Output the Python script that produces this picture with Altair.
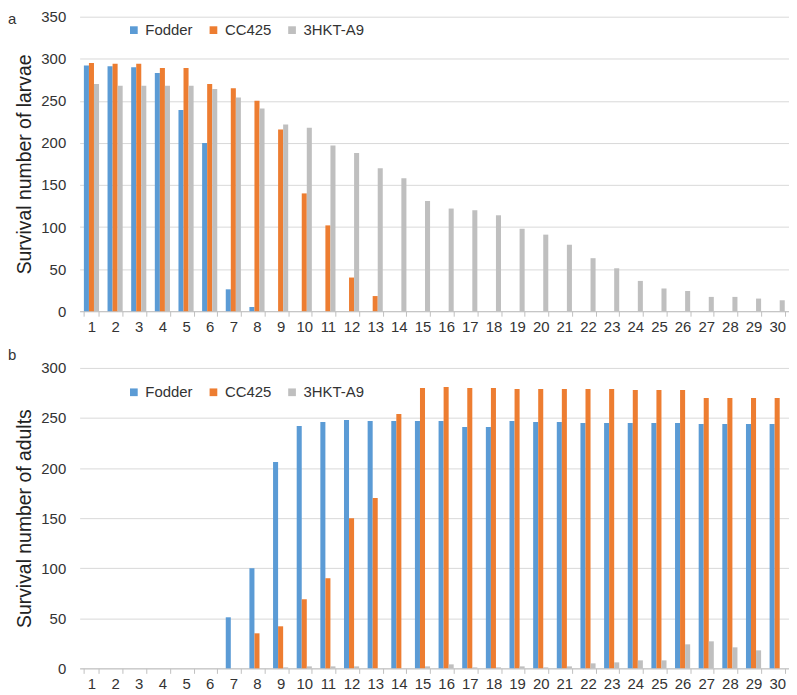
import altair as alt
import pandas as pd

days = list(range(1, 31))
series = ["Fodder", "CC425", "3HKT-A9"]
colors = ["#5B9BD5", "#ED7D31", "#BFBFBF"]

larvae_fodder = [292, 291, 290, 283, 239, 200, 26, 5, 0, 0,
                 0, 0, 0, 0, 0, 0, 0, 0, 0, 0,
                 0, 0, 0, 0, 0, 0, 0, 0, 0, 0]
larvae_cc425 = [295, 294, 294, 289, 289, 270, 265, 250, 216, 140,
                102, 40, 18, 0, 0, 0, 0, 0, 0, 0,
                0, 0, 0, 0, 0, 0, 0, 0, 0, 0]
larvae_3hkt = [270, 268, 268, 268, 268, 264, 254, 241, 222, 218,
               197, 188, 170, 158, 131, 122, 120, 114, 98, 91,
               79, 63, 51, 36, 27, 24, 17, 17, 15, 13]

adult_fodder = [0, 0, 0, 0, 0, 0, 51, 100, 206, 242,
                246, 248, 247, 247, 247, 247, 241, 241, 247, 246,
                246, 245, 245, 245, 245, 245, 244, 244, 244, 244]
adult_cc425 = [0, 0, 0, 0, 0, 0, 0, 35, 42, 69,
               90, 150, 170, 254, 280, 281, 280, 280, 279, 279,
               279, 279, 279, 278, 278, 278, 270, 270, 270, 270]
adult_3hkt = [0, 0, 0, 0, 0, 0, 0, 0, 1, 2,
              2, 2, 0, 0, 2, 4, 1, 1, 2, 1,
              2, 5, 6, 8, 8, 24, 27, 21, 18, 0]

larvae_ticks = [0, 50, 100, 150, 200, 250, 300, 350]
adult_ticks = [0, 50, 100, 150, 200, 250, 300]


def long_form(a, b, c):
    rows = []
    for name, vals in zip(series, [a, b, c]):
        for d, v in zip(days, vals):
            rows.append({"day": d, "series": name, "value": v})
    return pd.DataFrame(rows)


df_larvae = long_form(larvae_fodder, larvae_cc425, larvae_3hkt)
df_adult = long_form(adult_fodder, adult_cc425, adult_3hkt)

FONT = "Liberation Sans"
W = 713


def panel(df, ticks, title, letter, h, legend_y, letter_y):
    x_axis = alt.Axis(title=None, labelAngle=0, labelFontSize=15, labelColor="#333333",
                      labelFont=FONT, tickBand="extent", ticks=True, tickSize=5,
                      tickColor="#BFBFBF", domainColor="#BFBFBF", labelPadding=3,
                      grid=False)
    y_axis = alt.Axis(values=ticks, grid=True, gridColor="#D9D9D9", domain=False,
                      ticks=False, labelFontSize=15, labelColor="#333333", labelFont=FONT,
                      labelPadding=14, title=title, titleFontSize=19.5,
                      titleFontWeight="normal", titleFont=FONT, titleColor="#222222",
                      titlePadding=6)
    bars = alt.Chart(df).mark_bar().encode(
        x=alt.X("day:O", axis=x_axis,
                scale=alt.Scale(paddingInner=0.36, paddingOuter=0.18)),
        xOffset=alt.XOffset("series:N", sort=series,
                            scale=alt.Scale(paddingInner=0, paddingOuter=0)),
        y=alt.Y("value:Q", axis=y_axis,
                scale=alt.Scale(domain=[ticks[0], ticks[-1]], nice=False)),
        color=alt.Color("series:N", sort=series,
                        scale=alt.Scale(domain=series, range=colors),
                        legend=alt.Legend(title=None, orient="none", direction="horizontal",
                                          legendX=47, legendY=legend_y, columns=3,
                                          gridAlign="none", columnPadding=13,
                                          symbolType="square", symbolSize=60,
                                          symbolStrokeWidth=0, labelFontSize=15,
                                          labelFont=FONT, labelColor="#333333",
                                          labelOffset=4)),
    )
    lab = alt.Chart(pd.DataFrame({"t": [letter]})).mark_text(
        font=FONT, fontSize=15, color="#333333", align="left", baseline="middle"
    ).encode(text="t:N", x=alt.value(-72), y=alt.value(letter_y))
    return alt.layer(bars, lab).properties(width=W, height=h)


top = panel(df_larvae, larvae_ticks, "Survival number of larvae", "a", 296, 6, 2)
bottom = panel(df_adult, adult_ticks, "Survival number of adults", "b", 302, 17, -13)

chart = alt.vconcat(top, bottom, spacing=14).resolve_legend(color="independent").properties(
    padding={"left": 0, "top": 0, "right": 0, "bottom": 0}
).configure_view(stroke=None)

chart.save("out.html", embed_options={"renderer": "svg", "actions": False})
